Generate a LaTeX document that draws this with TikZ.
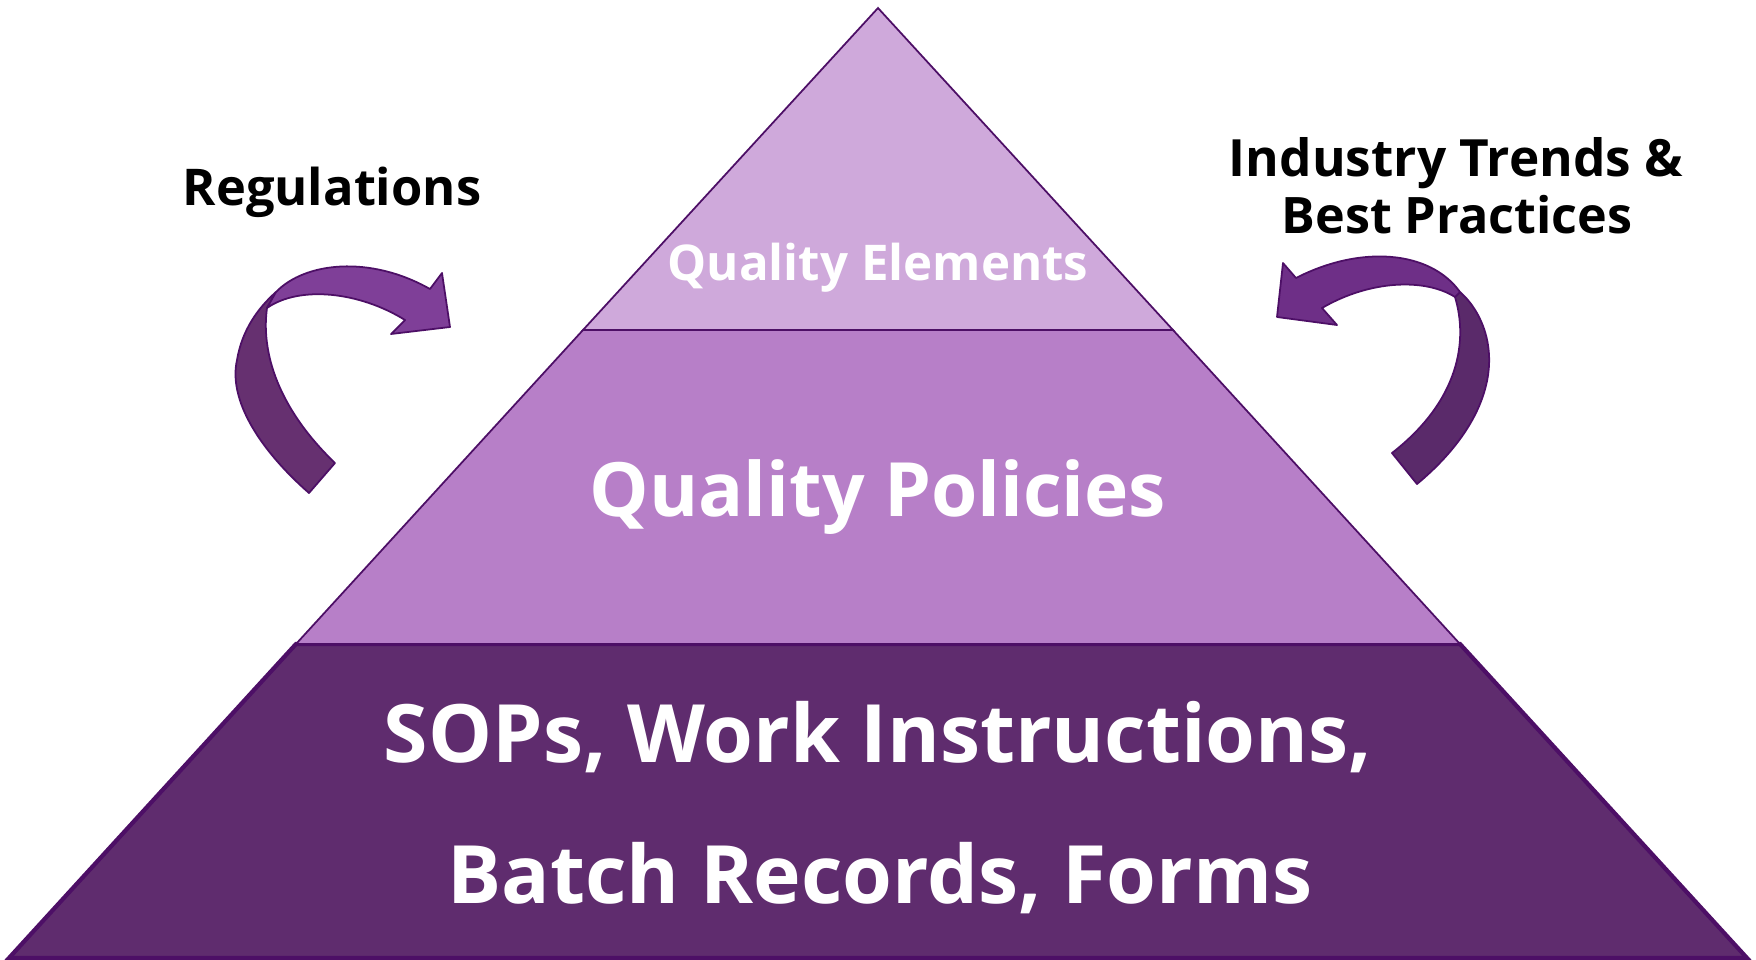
\documentclass[tikz,border=0pt]{standalone}
\usepackage{fontspec}
\setmainfont{Open Sans}
\definecolor{haut}{HTML}{CFA9DB}
\definecolor{milieu}{HTML}{B77FC8}
\definecolor{bas}{HTML}{5F2C6E}
\definecolor{bord}{HTML}{4D0F66}
\definecolor{flclair}{HTML}{7F3F98}
\definecolor{flfonce}{HTML}{663070}
\definecolor{frclair}{HTML}{6E2F87}
\definecolor{frfonce}{HTML}{5A2A6A}
\begin{document}
\begin{tikzpicture}[x=0.01cm, y=-0.01cm]
\tikzset{blanc/.style={text=white, font=\bfseries, anchor=base, inner sep=0pt},
  noir/.style={text=black, font=\bfseries, anchor=base, inner sep=0pt},
  fleche/.style={draw=bord, line width=0.5pt, line join=round}}
\useasboundingbox (0,0) rectangle (1756,960);
% pyramide
\draw[fill=bas, draw=bord, line width=1.2pt] (9,958) -- (1747,958) -- (1460,644) -- (296,644) -- cycle;
\draw[fill=milieu, draw=bord, line width=0.5pt] (296,644) -- (1460,644) -- (1173,330) -- (583,330) -- cycle;
\draw[fill=haut, draw=bord, line width=0.5pt] (583,330) -- (1173,330) -- (878,8) -- cycle;
% fleche gauche
\draw[fleche, fill=flfonce] (309,493) .. controls (260,450) and (228,400) .. (237,360)
  .. controls (242,330) and (258,308) .. (276,292) -- (267,308)
  .. controls (260,360) and (285,415) .. (335,463) -- cycle;
\draw[fleche, fill=flclair] (276,292) .. controls (305,262) and (370,255) .. (430,289)
  -- (442,273) -- (450,327) -- (391,334) -- (405,320)
  .. controls (360,292) and (300,285) .. (267,308) -- cycle;
% fleche droite
\draw[fleche, fill=frfonce] (1417,484) .. controls (1470,440) and (1495,390) .. (1488,345)
  .. controls (1485,325) and (1475,305) .. (1460,292) -- (1455,297)
  .. controls (1468,340) and (1460,400) .. (1392,453) -- cycle;
\draw[fleche, fill=frclair] (1460,292) .. controls (1430,250) and (1360,245) .. (1296,278)
  -- (1283,263) -- (1277,317) -- (1337,325) -- (1322,308)
  .. controls (1370,280) and (1425,278) .. (1455,297) -- cycle;
% textes
\node[blanc, font=\bfseries\fontsize{14}{17}\selectfont] (E1) at (878,280) {Quality Elements};
\node[blanc, font=\bfseries\fontsize{21.3}{26}\selectfont] (E2) at (878,516) {Quality Policies};
\node[blanc, font=\bfseries\fontsize{22.9}{28}\selectfont] (E3) at (878,762) {SOPs, Work Instructions,};
\node[blanc, font=\bfseries\fontsize{22.9}{28}\selectfont] (E4) at (880,903) {Batch Records, Forms};
\node[noir, font=\bfseries\fontsize{14.4}{17}\selectfont] (R) at (332,205) {Regulations};
\node[noir, font=\bfseries\fontsize{14.6}{17}\selectfont] (T1) at (1456,176) {Industry Trends \&};
\node[noir, font=\bfseries\fontsize{14.3}{17}\selectfont] (T2) at (1457,233) {Best Practices};
\end{tikzpicture}
\end{document}
